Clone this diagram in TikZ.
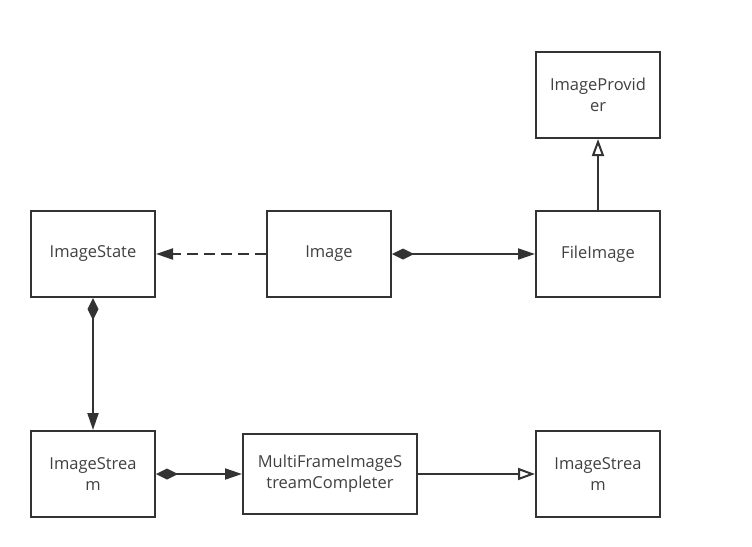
\documentclass[tikz,border=0pt]{standalone}
\usepackage{fontspec}
\setmainfont{Open Sans}
\usetikzlibrary{arrows.meta,positioning}

\begin{document}
\begin{tikzpicture}[
    x=1pt, y=-1pt,
    box/.style={rectangle, draw=black!80, line width=2pt, minimum width=124pt, minimum height=86pt,
        align=center, text=black!75, font=\fontsize{16.5}{21}\selectfont},
    arrow/.style={-{Triangle[length=17pt,width=11pt]}, line width=2pt, draw=black!80},
    dasharrow/.style={arrow, dash pattern=on 11pt off 6pt},
    comp/.style={{Diamond[length=22pt,width=11pt]}-{Triangle[length=17pt,width=11pt]}, line width=2pt, draw=black!80},
    inherit/.style={-{Triangle[open,length=17pt,width=12pt,line width=2pt]}, line width=2pt, draw=black!80}
]
\useasboundingbox (0,0) rectangle (752,546);
\node[box] (provider) at (598,95) {ImageProvid\\er};
\node[box] (state) at (93,254) {ImageState};
\node[box] (image) at (329,254) {Image};
\node[box] (file) at (598,254) {FileImage};
\node[box] (streamL) at (93,474) {ImageStrea\\m};
\node[box, minimum width=174pt, minimum height=80pt] (completer) at (330,474) {MultiFrameImageS\\treamCompleter};
\node[box] (streamR) at (598,474) {ImageStrea\\m};

\draw[dasharrow] (image) -- (state);
\draw[comp] (image) -- (file);
\draw[comp] (state) -- (streamL);
\draw[comp] (streamL) -- (completer);
\draw[inherit] (completer) -- (streamR);
\draw[inherit] (file) -- (provider);
\end{tikzpicture}
\end{document}
